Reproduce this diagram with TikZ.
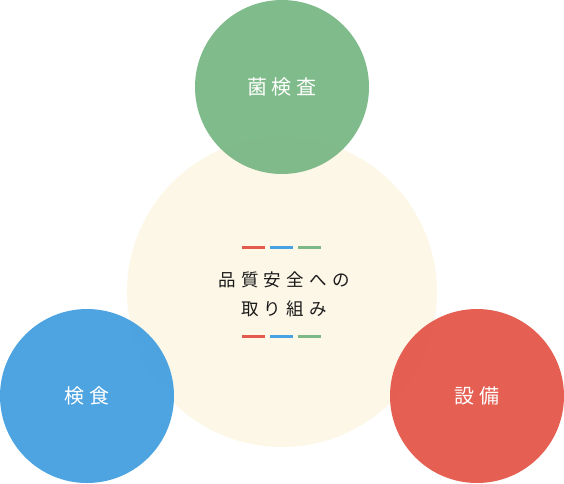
\documentclass[tikz,border=0pt]{standalone}
\usepackage{fontspec}
\newfontfamily\jpfont[LetterSpace=22]{Noto Sans CJK JP}
\newfontfamily\jpfontc[LetterSpace=30]{Noto Sans CJK JP}
\definecolor{cgreen}{HTML}{7CB987}
\definecolor{cblue}{HTML}{48A1E0}
\definecolor{cred}{HTML}{E45A4D}
\definecolor{cbeige}{HTML}{FDF7E8}
\definecolor{ctext}{HTML}{1A1A1A}
\begin{document}
\begin{tikzpicture}[x=1pt,y=-1pt,
  bigc/.style={circle,fill=cbeige,minimum size=310pt,inner sep=0pt},
  smallc/.style={circle,minimum size=174pt,inner sep=0pt,fill opacity=0.97,text opacity=1,text=white,font=\jpfont\fontsize{20}{22}\selectfont},
  dashln/.style={line width=3pt}]
\useasboundingbox (0,0) rectangle (564,483);
\node[bigc] (center) at (282,292) {};
\node[smallc,fill=cgreen] (kin) at (282,87) {菌検査};
\node[smallc,fill=cblue] (ken) at (87,396) {検食};
\node[smallc,fill=cred] (set) at (477,396) {設備};
\node[text=ctext,font=\jpfontc\fontsize{17.5}{29}\selectfont,align=center] (title) at (284,294.5) {品質安全への\\取り組み};
\coordinate (a1) at (242,247); \coordinate (a2) at (265,247);
\coordinate (b1) at (270,247); \coordinate (b2) at (293,247);
\coordinate (c1) at (298,247); \coordinate (c2) at (321,247);
\draw[dashln,cred] (a1) -- (a2);
\draw[dashln,cblue] (b1) -- (b2);
\draw[dashln,cgreen] (c1) -- (c2);
\coordinate (d1) at (242,336); \coordinate (d2) at (265,336);
\coordinate (e1) at (270,336); \coordinate (e2) at (293,336);
\coordinate (f1) at (298,336); \coordinate (f2) at (321,336);
\draw[dashln,cred] (d1) -- (d2);
\draw[dashln,cblue] (e1) -- (e2);
\draw[dashln,cgreen] (f1) -- (f2);
\end{tikzpicture}
\end{document}
